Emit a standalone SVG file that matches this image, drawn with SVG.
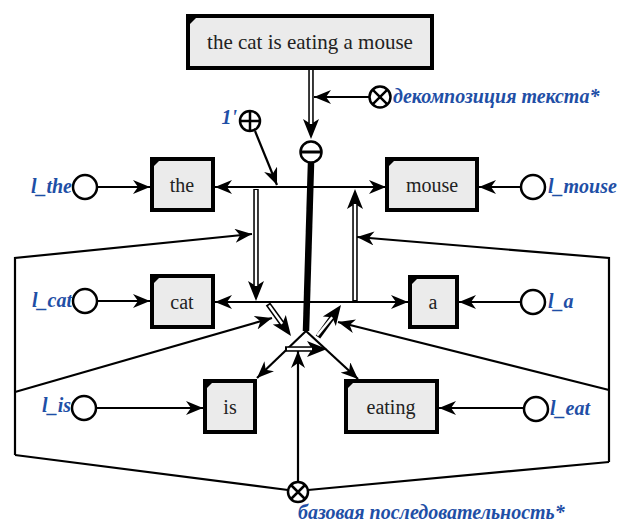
<svg xmlns="http://www.w3.org/2000/svg" width="623" height="524" viewBox="0 0 623 524">
<style>
.box{fill:#ebebeb;stroke:#000;stroke-width:4}
.crn{fill:#000}
.bt{font-family:"Liberation Serif","Times New Roman",serif;font-size:20px;fill:#222;text-anchor:middle}
.lb{font-family:"Liberation Serif","Times New Roman",serif;font-size:20px;font-weight:bold;font-style:italic;fill:#1f4fa6}
.ln{fill:none;stroke:#000;stroke-width:2.2}
.dl{fill:none;stroke:#000;stroke-width:5.5}
.dw{fill:none;stroke:#fff;stroke-width:2.4}
.nd{fill:#fff;stroke:#000;stroke-width:2.5}
</style>
<defs>
<marker id="ar" markerUnits="userSpaceOnUse" markerWidth="18" markerHeight="14" refX="17" refY="7" orient="auto">
<path d="M0,0 L17,7 L0,14 L5,7 z" fill="#000"/>
</marker>
<marker id="ad" markerUnits="userSpaceOnUse" markerWidth="20" markerHeight="16" refX="7" refY="8" orient="auto" overflow="visible">
<path d="M0,0 L20,8 L0,16 L5,8 z" fill="#000"/>
</marker>
</defs>
<g id="connectors">
<path class="dl" d="M311,68 L311,126" marker-end="url(#ad)"/>
<path class="dw" d="M311,70 L311,124"/>
<path class="ln" d="M369,97 L314,97" marker-end="url(#ar)"/>
<path class="ln" d="M255,131 L277,185" marker-end="url(#ar)"/>
<path d="M311,163 L306,331" stroke="#000" stroke-width="6.5" fill="none"/>
<path class="ln" d="M309,187 L215,187" marker-end="url(#ar)"/>
<path class="ln" d="M309,187 L386,187" marker-end="url(#ar)"/>
<path class="ln" d="M308,302 L215,302" marker-end="url(#ar)"/>
<path class="ln" d="M308,302 L408,302" marker-end="url(#ar)"/>
<path class="dl" d="M256,189 L256,288" marker-end="url(#ad)"/>
<path class="dw" d="M256,190 L256,286"/>
<path class="dl" d="M355,301 L355,202" marker-end="url(#ad)"/>
<path class="dw" d="M355,300 L355,204"/>
<path class="ln" d="M306,331 L257,378" marker-end="url(#ar)"/>
<path class="ln" d="M306,331 L358,379" marker-end="url(#ar)"/>
<path class="dl" d="M268,304 L283.4,325.4" marker-end="url(#ad)"/>
<path class="dw" d="M269,305.4 L282.2,323.8"/>
<path class="dl" d="M318,337 L333.4,315.6" marker-end="url(#ad)"/>
<path class="dw" d="M317.2,335.6 L332.2,317.2"/>
<path class="dl" d="M285,349 L314,349" marker-end="url(#ad)"/>
<path class="dw" d="M287,349 L312,349"/>
<path class="ln" d="M298,482 L298,351" marker-end="url(#ar)"/>
<path class="ln" d="M15,455 L15,258 L252,234" marker-end="url(#ar)"/>
<path class="ln" d="M15,455 L288,490"/>
<path class="ln" d="M15,392 L272,318" marker-end="url(#ar)"/>
<path class="ln" d="M609,462 L609,258 L357,237" marker-end="url(#ar)"/>
<path class="ln" d="M609,462 L308,490"/>
<path class="ln" d="M609,390 L338,322" marker-end="url(#ar)"/>
<path class="ln" d="M97,187 L150,187" marker-end="url(#ar)"/>
<path class="ln" d="M521,187 L479,187" marker-end="url(#ar)"/>
<path class="ln" d="M97,301 L150,301" marker-end="url(#ar)"/>
<path class="ln" d="M521,302 L459,302" marker-end="url(#ar)"/>
<path class="ln" d="M96,408 L203,408" marker-end="url(#ar)"/>
<path class="ln" d="M524,408 L439,408" marker-end="url(#ar)"/>
</g>
<g id="text_main">
<rect class="box" x="188" y="16" width="244" height="52"/>
<polygon class="crn" points="188,16 198,16 188,26"/>
<text class="bt" x="310" y="49" style="font-size:21px">the cat is eating a mouse</text>
</g>
<g id="n_the">
<rect class="box" x="152" y="159" width="61" height="51"/>
<polygon class="crn" points="152,159 161,159 152,168"/>
<text class="bt" x="182" y="192">the</text>
</g>
<g id="n_mouse">
<rect class="box" x="387" y="159" width="90" height="51"/>
<polygon class="crn" points="387,159 396,159 387,168"/>
<text class="bt" x="432" y="192">mouse</text>
</g>
<g id="n_cat">
<rect class="box" x="152" y="276" width="61" height="51"/>
<polygon class="crn" points="152,276 161,276 152,285"/>
<text class="bt" x="182" y="309">cat</text>
</g>
<g id="n_a">
<rect class="box" x="410" y="277" width="47" height="50"/>
<polygon class="crn" points="410,277 419,277 410,286"/>
<text class="bt" x="433" y="309">a</text>
</g>
<g id="n_is">
<rect class="box" x="205" y="381" width="50" height="51"/>
<polygon class="crn" points="205,381 214,381 205,390"/>
<text class="bt" x="230" y="414">is</text>
</g>
<g id="n_eating">
<rect class="box" x="346" y="381" width="91" height="51"/>
<polygon class="crn" points="346,381 355,381 346,390"/>
<text class="bt" x="391" y="414">eating</text>
</g>
<g id="decomp">
<circle class="nd" cx="380" cy="97" r="10.5"/>
<path d="M372.6,89.6 L387.4,104.4 M387.4,89.6 L372.6,104.4" stroke="#000" stroke-width="2.5"/>
<text class="lb" x="393" y="103">декомпозиция текста*</text>
</g>
<g id="one">
<circle class="nd" cx="250" cy="121" r="10"/>
<path d="M240,121 L260,121 M250,111 L250,131" stroke="#000" stroke-width="2.5"/>
<text class="lb" x="237" y="124" text-anchor="end">1'</text>
</g>
<g id="minus">
<circle class="nd" cx="311" cy="152" r="10.5"/>
<path d="M301,152 L321,152" stroke="#000" stroke-width="3"/>
</g>
<g id="base">
<circle class="nd" cx="298" cy="492" r="10"/>
<path d="M291,485 L305,499 M305,485 L291,499" stroke="#000" stroke-width="2.5"/>
<text class="lb" x="298" y="519">базовая последовательность*</text>
</g>
<g id="l_the">
<circle class="nd" cx="85" cy="187" r="12"/>
<text class="lb" x="72" y="193" text-anchor="end">l_the</text>
</g>
<g id="l_mouse">
<circle class="nd" cx="533" cy="187" r="12"/>
<text class="lb" x="548" y="193">l_mouse</text>
</g>
<g id="l_cat">
<circle class="nd" cx="85" cy="301" r="12"/>
<text class="lb" x="72" y="307" text-anchor="end">l_cat</text>
</g>
<g id="l_a">
<circle class="nd" cx="533" cy="302" r="12"/>
<text class="lb" x="548" y="308">l_a</text>
</g>
<g id="l_is">
<circle class="nd" cx="84" cy="408" r="12"/>
<text class="lb" x="71" y="412" text-anchor="end">l_is</text>
</g>
<g id="l_eat">
<circle class="nd" cx="536" cy="409" r="12"/>
<text class="lb" x="550" y="415">l_eat</text>
</g>
</svg>
